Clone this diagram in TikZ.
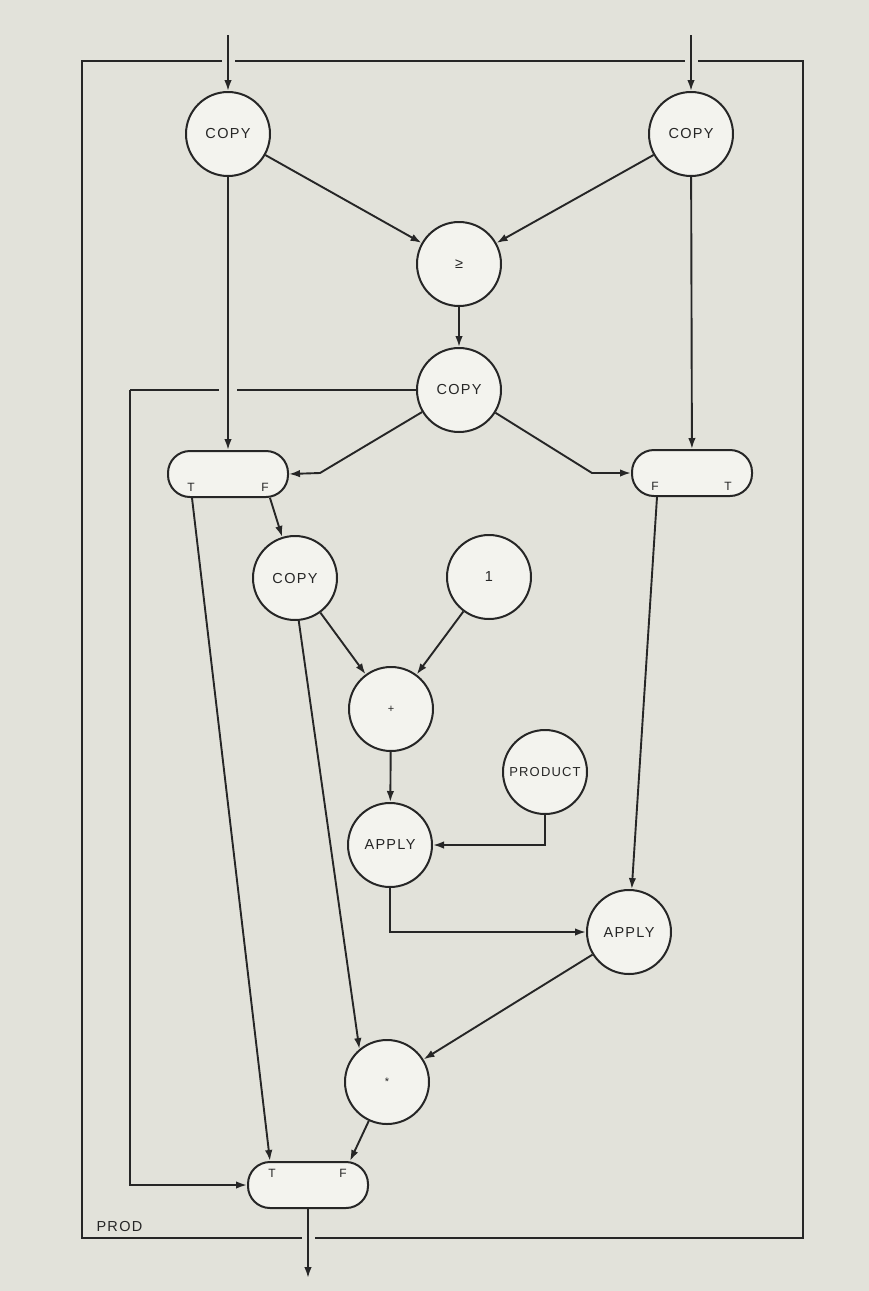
\documentclass[tikz,border=0pt]{standalone}
\usepackage{fontspec}
\setsansfont{Liberation Sans}[LetterSpace=9]
\usetikzlibrary{arrows.meta}
\definecolor{paper}{HTML}{E2E2DA}
\definecolor{disc}{HTML}{F3F3EE}
\definecolor{ink}{HTML}{262626}

\begin{document}
\begin{tikzpicture}[
    x=1pt, y=-1pt,
    every node/.style={font=\sffamily\fontsize{14.5}{16}\selectfont, text=ink},
    op/.style={circle, draw=ink, line width=2pt, fill=disc, minimum size=84pt, inner sep=0pt},
    switch/.style={rectangle, draw=ink, line width=2pt, fill=disc, rounded corners=22pt, minimum width=120pt, minimum height=46pt},
    tf/.style={font=\sffamily\fontsize{12}{14}\selectfont},
    tiny/.style={font=\sffamily\fontsize{11}{12}\selectfont},
    arrow/.style={-{Latex[length=11pt,width=7.5pt]}, line width=1.9pt, draw=ink},
    wire/.style={line width=1.9pt, draw=ink},
    gap/.style={draw=paper, line width=13pt}
]

% BACKGROUND AND FRAME
\fill[paper] (0,0) rectangle (869,1291);
\coordinate (fTL) at (82,61);
\coordinate (fBR) at (803,1238);
\draw[wire] (fTL) rectangle (fBR);
\node[anchor=west] (prod) at (93,1226) {PROD};

% NODES
\node[op] (copyL) at (228,134) {COPY};
\node[op] (copyR) at (691,134) {COPY};
\node[op] (geq) at (459,264) {≥};
\node[op] (copyM) at (459,390) {COPY};
\node[switch] (swL) at (228,474) {};
\node[switch] (swR) at (692,473) {};
\node[op] (copyB) at (295,578) {COPY};
\node[op] (one) at (489,577) {1};
\node[op, tiny] (plus) at (391,709) {+};
\node[op, font=\sffamily\fontsize{13}{15}\selectfont] (product) at (545,772) {PRODUCT};
\node[op] (applyL) at (390,845) {APPLY};
\node[op] (applyR) at (629,932) {APPLY};
\node[op, tiny] (times) at (387,1082) {*};
\node[switch] (swOut) at (308,1185) {};

% SWITCH LABELS
\node[tf] at ([xshift=-37pt, yshift=-13pt]swL.center) {T};
\node[tf] at ([xshift=37pt, yshift=-13pt]swL.center) {F};
\node[tf] at ([xshift=-37pt, yshift=-13pt]swR.center) {F};
\node[tf] at ([xshift=36pt, yshift=-13pt]swR.center) {T};
\node[tf] at ([xshift=-36pt, yshift=12pt]swOut.center) {T};
\node[tf] at ([xshift=35pt, yshift=12pt]swOut.center) {F};

% FREE ENDS
\coordinate (inL) at (228,35);
\coordinate (inR) at (691,35);
\coordinate (out) at (308,1278);
\coordinate (bendL) at (320,473);
\coordinate (bendR) at (592,473);
\coordinate (wireL) at (130,390);

% ARROWS
\draw[wire] (copyM.west) -- (wireL);
\draw[arrow] (wireL) |- (swOut.west);
\draw[gap] ([yshift=6pt]inL |- fTL) -- ([yshift=-6pt]inL |- fTL);
\draw[gap] ([yshift=6pt]inR |- fTL) -- ([yshift=-6pt]inR |- fTL);
\draw[gap] ([yshift=6pt]out |- fBR) -- ([yshift=-6pt]out |- fBR);
\draw[gap, line width=18pt] ([yshift=6pt]copyL |- wireL) -- ([yshift=-6pt]copyL |- wireL);
\draw[arrow] (inL) -- (copyL);
\draw[arrow] (inR) -- (copyR);
\draw[arrow] (copyL) -- (geq);
\draw[arrow] (copyR) -- (geq);
\draw[arrow] (copyL) -- (swL);
\draw[arrow] (copyR) -- (swR);
\draw[arrow] (geq) -- (copyM);
\draw[arrow] (copyM) -- (bendL) -- (swL.east);
\draw[arrow] (copyM) -- (bendR) -- (swR.west);
\draw[arrow] ([xshift=42pt]swL.south) -- (copyB);
\draw[arrow] ([xshift=-36pt]swL.south) -- ([xshift=-38pt]swOut.north);
\draw[arrow] ([xshift=-35pt]swR.south) -- (applyR);
\draw[arrow] (copyB) -- (plus);
\draw[arrow] (one) -- (plus);
\draw[arrow] (plus) -- (applyL);
\draw[arrow] (product) |- (applyL);
\draw[arrow] (applyL) |- (applyR);
\draw[arrow] (copyB.-85) -- (times.130);
\draw[arrow] (applyR) -- (times);
\draw[arrow] (times) -- ([xshift=42pt]swOut.north);
\draw[arrow] (swOut) -- (out);

\end{tikzpicture}
\end{document}
